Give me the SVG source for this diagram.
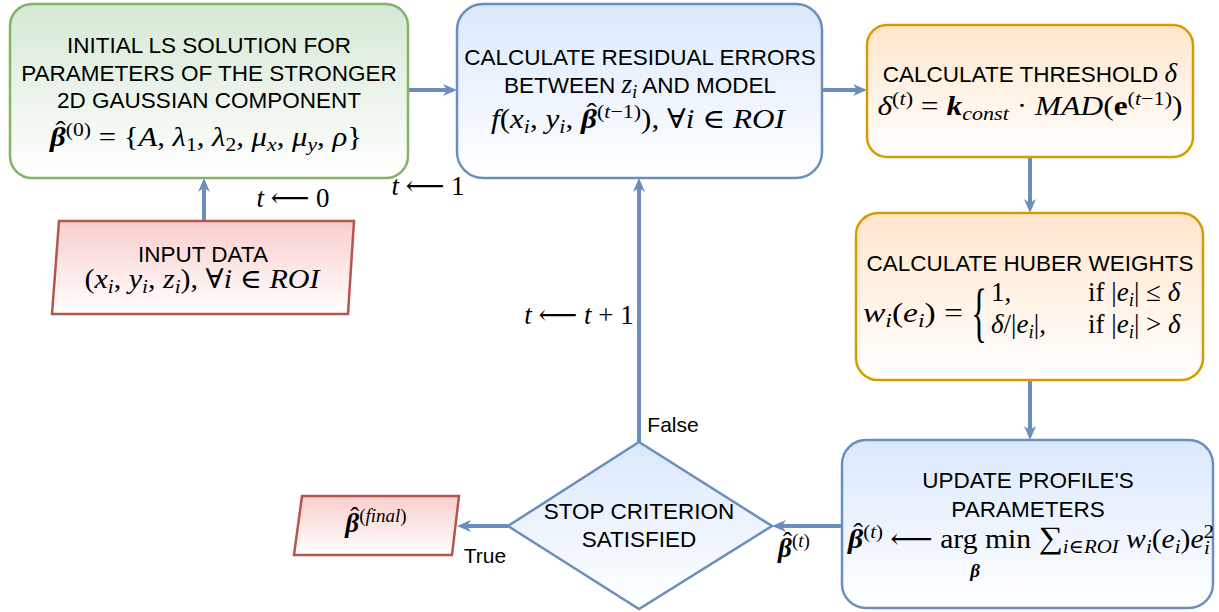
<svg xmlns="http://www.w3.org/2000/svg" width="1219" height="612" viewBox="0 0 1219 612">
<defs>
<linearGradient id="gG" x1="0" y1="0" x2="0" y2="1"><stop offset="0" stop-color="#d5e8d4"/><stop offset="1" stop-color="#ffffff"/></linearGradient>
<linearGradient id="gB" x1="0" y1="0" x2="0" y2="1"><stop offset="0" stop-color="#dae8fc"/><stop offset="1" stop-color="#ffffff"/></linearGradient>
<linearGradient id="gO" x1="0" y1="0" x2="0" y2="1"><stop offset="0" stop-color="#ffe6cc"/><stop offset="1" stop-color="#ffffff"/></linearGradient>
<linearGradient id="gR" x1="0" y1="0" x2="0" y2="1"><stop offset="0" stop-color="#f8cecc"/><stop offset="1" stop-color="#ffffff"/></linearGradient>
<marker id="arr" viewBox="0 0 14 12" refX="6" refY="6" markerWidth="14" markerHeight="12" markerUnits="userSpaceOnUse" orient="auto"><path d="M0,0 L14,6 L0,12 L4,6 Z" fill="#6c8ebf"/></marker>
</defs>
<style>
.t{font-family:"Liberation Sans",Arial,sans-serif;font-size:22.5px;fill:#000;text-anchor:middle}
.m{font-family:"Liberation Serif","DejaVu Serif",serif;font-size:27px;fill:#000;text-anchor:middle}
.i{font-style:italic}
.b{font-weight:bold;font-style:italic}
.s{font-size:19px}
.c{fill:none;stroke:#6c8ebf;stroke-width:4;marker-end:url(#arr)}
.green{fill:url(#gG);stroke:#82b366;stroke-width:2.5}
.blue{fill:url(#gB);stroke:#6c8ebf;stroke-width:2.5}
.orange{fill:url(#gO);stroke:#d79b00;stroke-width:2.5}
.red{fill:url(#gR);stroke:#b85450;stroke-width:2.5}
</style>
<rect width="1219" height="612" fill="#ffffff"/>

<g id="connectors">
<path class="c" d="M204,221 V186"/>
<path class="c" d="M408,90 H449"/>
<path class="c" d="M822,90 H859"/>
<path class="c" d="M1030,157 V205"/>
<path class="c" d="M1030,380 V432"/>
<path class="c" d="M842,526 H780"/>
<path class="c" d="M508,526 H465"/>
<path class="c" d="M639,442 V186"/>
<text class="m" x="293" y="207"><tspan class="i">t</tspan> ⟵ 0</text>
<text class="m" x="428" y="195"><tspan class="i">t</tspan> ⟵ 1</text>
<text class="m" x="579" y="324"><tspan class="i">t</tspan> ⟵ <tspan class="i">t</tspan> + 1</text>
<text class="t" x="673" y="432" style="font-size:21px">False</text>
<text class="t" x="485" y="563" style="font-size:21px">True</text>
<text class="m" x="794" y="557"><tspan class="b">β</tspan><tspan dx="-9" dy="-6">ˆ</tspan><tspan class="s" dy="-4">(<tspan class="i">t</tspan>)</tspan></text>
</g>

<g id="init">
<rect class="green" x="10" y="4" width="398" height="174" rx="22"/>
<text class="t" x="209" y="53">INITIAL LS SOLUTION FOR</text>
<text class="t" x="209" y="81">PARAMETERS OF THE STRONGER</text>
<text class="t" x="209" y="108">2D GAUSSIAN COMPONENT</text>
<text class="m" x="206" y="146" textLength="312" lengthAdjust="spacingAndGlyphs"><tspan class="b">β</tspan><tspan dx="-9" dy="-6">ˆ</tspan><tspan class="s" dy="-4">(0)</tspan><tspan dy="10"> = {</tspan><tspan class="i">A</tspan>, <tspan class="i">λ</tspan><tspan class="s" dy="5">1</tspan><tspan dy="-5">, </tspan><tspan class="i">λ</tspan><tspan class="s" dy="5">2</tspan><tspan dy="-5">, </tspan><tspan class="i">μ</tspan><tspan class="s i" dy="5">x</tspan><tspan dy="-5">, </tspan><tspan class="i">μ</tspan><tspan class="s i" dy="5">y</tspan><tspan dy="-5">, </tspan><tspan class="i">ρ</tspan>}</text>
</g>

<g id="input">
<polygon class="red" points="59,221 354,221 348,314 52,314"/>
<text class="t" x="203" y="262">INPUT DATA</text>
<text class="m" x="202" y="288" textLength="235" lengthAdjust="spacingAndGlyphs">(<tspan class="i">x</tspan><tspan class="s i" dy="5">i</tspan><tspan dy="-5">, </tspan><tspan class="i">y</tspan><tspan class="s i" dy="5">i</tspan><tspan dy="-5">, </tspan><tspan class="i">z</tspan><tspan class="s i" dy="5">i</tspan><tspan dy="-5">), ∀</tspan><tspan class="i">i</tspan> ∈ <tspan class="i">ROI</tspan></text>
</g>

<g id="residual">
<rect class="blue" x="457" y="4" width="365" height="174" rx="26"/>
<text class="t" x="640" y="65">CALCULATE RESIDUAL ERRORS</text>
<text class="t" x="640" y="93">BETWEEN <tspan style="font-family:'Liberation Serif',serif;font-style:italic;font-size:27px">z</tspan><tspan style="font-family:'Liberation Serif',serif;font-style:italic;font-size:19px" dy="5">i</tspan><tspan dy="-5"> AND MODEL</tspan></text>
<text class="m" x="638" y="128" textLength="294" lengthAdjust="spacingAndGlyphs"><tspan class="i">f</tspan>(<tspan class="i">x</tspan><tspan class="s i" dy="5">i</tspan><tspan dy="-5">, </tspan><tspan class="i">y</tspan><tspan class="s i" dy="5">i</tspan><tspan dy="-5">, </tspan><tspan class="b">β</tspan><tspan dx="-9" dy="-6">ˆ</tspan><tspan class="s" dy="-4">(<tspan class="i">t</tspan>−1)</tspan><tspan dy="10">), ∀</tspan><tspan class="i">i</tspan> ∈ <tspan class="i">ROI</tspan></text>
</g>

<g id="threshold">
<rect class="orange" x="867" y="25" width="326" height="132" rx="20"/>
<text class="t" x="1030" y="82">CALCULATE THRESHOLD <tspan style="font-family:'Liberation Serif',serif;font-style:italic;font-size:27px">δ</tspan></text>
<text class="m" x="1030" y="115" textLength="305" lengthAdjust="spacingAndGlyphs"><tspan class="i">δ</tspan><tspan class="s" dy="-10">(<tspan class="i">t</tspan>)</tspan><tspan dy="10"> = </tspan><tspan class="b">k</tspan><tspan class="s i" dy="5">const</tspan><tspan dy="-5"> · </tspan><tspan class="i">MAD</tspan>(<tspan style="font-weight:bold">e</tspan><tspan class="s" dy="-10">(<tspan class="i">t</tspan>−1)</tspan><tspan dy="10">)</tspan></text>
</g>

<g id="huber">
<rect class="orange" x="856" y="213" width="347" height="167" rx="22"/>
<text class="t" x="1030" y="271">CALCULATE HUBER WEIGHTS</text>
<text class="m" x="863" y="322" style="text-anchor:start" textLength="100" lengthAdjust="spacingAndGlyphs"><tspan class="i">w</tspan><tspan class="s i" dy="5">i</tspan><tspan dy="-5">(</tspan><tspan class="i">e</tspan><tspan class="s i" dy="5">i</tspan><tspan dy="-5">) =</tspan></text>
<text class="m" x="979" y="334" style="font-size:65px" transform="translate(979,334) scale(0.5,1) translate(-979,-334)">{</text>
<text class="m" x="991" y="301" style="text-anchor:start">1,</text>
<text class="m" x="991" y="333" style="text-anchor:start"><tspan class="i">δ</tspan>/|<tspan class="i">e</tspan><tspan class="s i" dy="5">i</tspan><tspan dy="-5">|,</tspan></text>
<text class="m" x="1088" y="301" style="text-anchor:start">if |<tspan class="i">e</tspan><tspan class="s i" dy="5">i</tspan><tspan dy="-5">| ≤ </tspan><tspan class="i">δ</tspan></text>
<text class="m" x="1088" y="333" style="text-anchor:start">if |<tspan class="i">e</tspan><tspan class="s i" dy="5">i</tspan><tspan dy="-5">| &gt; </tspan><tspan class="i">δ</tspan></text>
</g>

<g id="update">
<rect class="blue" x="842" y="440" width="371" height="168" rx="24"/>
<text class="t" x="1028" y="488">UPDATE PROFILE'S</text>
<text class="t" x="1028" y="517">PARAMETERS</text>
<text class="m" x="848" y="548" style="text-anchor:start" textLength="366" lengthAdjust="spacingAndGlyphs"><tspan class="b">β</tspan><tspan dx="-9" dy="-6">ˆ</tspan><tspan class="s" dy="-4">(<tspan class="i">t</tspan>)</tspan><tspan dy="10"> ⟵ arg min </tspan><tspan style="font-size:31px">∑</tspan><tspan class="s i" dy="5">i</tspan><tspan class="s">∈</tspan><tspan class="s i">ROI</tspan><tspan dy="-5"> </tspan><tspan class="i">w</tspan><tspan class="s i" dy="5">i</tspan><tspan dy="-5">(</tspan><tspan class="i">e</tspan><tspan class="s i" dy="5">i</tspan><tspan dy="-5">)</tspan><tspan class="i">e</tspan><tspan class="s" dy="-10">2</tspan><tspan class="s i" dx="-9" dy="16">i</tspan></text>
<text class="m s b" x="975" y="577">β</text>
</g>

<g id="decision">
<polygon class="blue" points="639,442 772,526 639,609 508,526"/>
<text class="t" x="639" y="519">STOP CRITERION</text>
<text class="t" x="639" y="547">SATISFIED</text>
</g>

<g id="final">
<polygon class="red" points="302,496 459,496 452,555 294,555"/>
<text class="m" x="376" y="532"><tspan class="b">β</tspan><tspan dx="-9" dy="-6">ˆ</tspan><tspan class="s" dy="-4">(<tspan class="i">final</tspan>)</tspan></text>
</g>
</svg>
